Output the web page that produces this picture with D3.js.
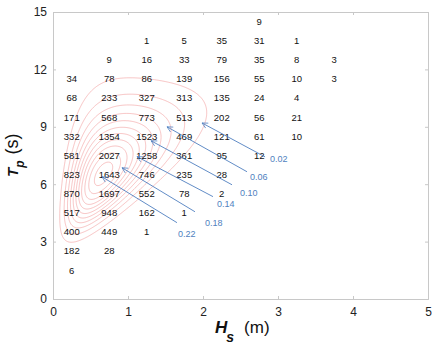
<!DOCTYPE html>
<html>
<head>
<meta charset="utf-8">
<script src="https://cdn.jsdelivr.net/npm/d3@7"></script>
<style>
  body { margin: 0; background: #fff; }
  text { font-family: "Liberation Sans", Arial, sans-serif; }
</style>
</head>
<body>
<div id="chart"></div>
<script>
// size of svg
const width = 446; const height = 352;

// scatter table: Hs bin centres, Tp bin centres (top row first), counts
const hsBins = [0.25, 0.75, 1.25, 1.75, 2.25, 2.75, 3.25, 3.75];
const tpBins = [14.5, 13.5, 12.5, 11.5, 10.5, 9.5, 8.5, 7.5, 6.5, 5.5, 4.5, 3.5, 2.5, 1.5];
const counts = [
  [null, null, null, null, null, 9, null, null],
  [null, null, 1, 5, 35, 31, 1, null],
  [null, 9, 16, 33, 79, 35, 8, 3],
  [34, 78, 86, 139, 156, 55, 10, 3],
  [68, 233, 327, 313, 135, 24, 4, null],
  [171, 568, 773, 513, 202, 56, 21, null],
  [332, 1354, 1523, 469, 121, 61, 10, null],
  [581, 2027, 1258, 361, 95, 12, null, null],
  [823, 1643, 746, 235, 28, null, null, null],
  [870, 1697, 552, 78, 2, null, null, null],
  [517, 948, 162, 1, null, null, null, null],
  [400, 449, 1, null, null, null, null, null],
  [182, 28, null, null, null, null, null, null],
  [6, null, null, null, null, null, null, null]
];

// ticks
const xTicks = [0, 1, 2, 3, 4, 5];
const yTicks = [0, 3, 6, 9, 12, 15];

// fitted joint pdf parameters (shifted lognormal Hs, conditional lognormal Tp)
const hsShift = 0.3, hsMu = 0.11, hsSigma = 0.40;
const tpMu = [1.3, 0.75, 0.4];       // mu(h) = a + b*h^c
const tpSigma = [0.12, 0.25, -1.0];  // s(h) = a + b*exp(c*h)
const levels = [0.02, 0.04, 0.06, 0.08, 0.10, 0.12, 0.14, 0.16, 0.18, 0.20, 0.22];

// contour labels with arrows (Hs, Tp of tip / tail / text)
const arrowLabels = ['0.02', '0.06', '0.10', '0.14', '0.18', '0.22'];
const arrowTip = [[1.987, 9.20], [1.52, 9.0], [1.307, 8.27], [1.12, 7.44], [0.92, 6.86], [0.653, 6.39]];
const arrowTail = [[2.827, 7.43], [2.587, 6.65], [2.387, 5.97], [2.133, 5.35], [1.893, 4.56], [1.653, 3.99]];
const labelPos = [[2.893, 7.17], [2.627, 6.24], [2.493, 5.40], [2.187, 4.82], [2.027, 3.83], [1.667, 3.26]];

let svg = d3.select('#chart')
  .append('svg')
    .attr('width', width)
    .attr('height', height);

const x = d3.scaleLinear().domain([0, 5]).range([53, 428]);
const y = d3.scaleLinear().domain([0, 15]).range([299, 12]);

// density grid for contours
function lnpdf(v, mu, s) {
  if (v <= 0) return 0;
  const z = (Math.log(v) - mu) / s;
  return Math.exp(-0.5 * z * z) / (v * s * Math.sqrt(2 * Math.PI));
}
function density(h, t) {
  if (h <= 0) return 0;
  const mu = tpMu[0] + tpMu[1] * Math.pow(h, tpMu[2]);
  const s = tpSigma[0] + tpSigma[1] * Math.exp(tpSigma[2] * h);
  return lnpdf(h + hsShift, hsMu, hsSigma) * lnpdf(t, mu, s);
}
const dh = 0.01, dt = 0.03;
const nx = Math.round(5 / dh) + 1, ny = Math.round(15 / dt) + 1;
const grid = new Array(nx * ny);
for (let j = 0; j < ny; j++) {
  for (let i = 0; i < nx; i++) {
    grid[j * nx + i] = density(i * dh, j * dt);
  }
}
const contours = d3.contours().size([nx, ny]).thresholds(levels)(grid);
const proj = d3.geoTransform({
  point: function(px, py) { this.stream.point(x((px - 0.5) * dh), y((py - 0.5) * dt)); }
});
const path = d3.geoPath(proj);

const plotG = svg.append('g');
plotG.append('defs').append('clipPath').attr('id', 'clip')
  .append('rect')
    .attr('x', x(0)).attr('y', y(15))
    .attr('width', x(5) - x(0)).attr('height', y(0) - y(15));

plotG.append('g')
    .attr('clip-path', 'url(#clip)')
  .selectAll('path')
  .data(contours)
  .enter()
  .append('path')
    .attr('d', path)
    .style('fill', 'none')
    .style('stroke', '#f09494')
    .style('stroke-width', 0.7)
    .style('opacity', 0.8);

// frame and axes
const axisColor = '#c8c8c8';
const fmt = d3.format('d');
const xAxis = plotG.append('g')
  .attr('transform', `translate(0, ${y(0)})`)
  .call(d3.axisBottom(x).tickValues(xTicks).tickFormat(fmt).tickSize(-3).tickPadding(8));
const yAxis = plotG.append('g')
  .attr('transform', `translate(${x(0)}, 0)`)
  .call(d3.axisLeft(y).tickValues(yTicks).tickFormat(fmt).tickSize(-3).tickPadding(6));
const xTop = plotG.append('g')
  .attr('transform', `translate(0, ${y(15)})`)
  .call(d3.axisTop(x).tickValues(xTicks).tickSize(-3).tickFormat(''));
const yRight = plotG.append('g')
  .attr('transform', `translate(${x(5)}, 0)`)
  .call(d3.axisRight(y).tickValues(yTicks).tickSize(-3).tickFormat(''));
[xAxis, yAxis, xTop, yRight].forEach(a => {
  a.selectAll('path, line').attr('stroke', axisColor);
  a.selectAll('text').attr('fill', '#222').style('font-size', '12px');
});

// table numbers
const cells = [];
counts.forEach((row, r) => {
  row.forEach((v, c) => {
    if (v !== null) cells.push({h: hsBins[c], t: tpBins[r], v: v});
  });
});
plotG.selectAll('.cell')
  .data(cells)
  .enter()
  .append('text')
    .attr('class', 'cell')
    .attr('x', d => x(d.h))
    .attr('y', d => y(d.t))
    .attr('dy', '0.35em')
    .attr('text-anchor', 'middle')
    .style('font-size', '9.5px')
    .attr('fill', '#111')
    .text(d => d.v);

// arrows with level labels
const blue = '#4f7fc0';
svg.append('defs').append('marker')
    .attr('id', 'head')
    .attr('viewBox', '-8 -5 10 10')
    .attr('refX', 0).attr('refY', 0)
    .attr('markerWidth', 8).attr('markerHeight', 8)
    .attr('markerUnits', 'userSpaceOnUse')
    .attr('orient', 'auto')
  .append('path')
    .attr('d', 'M-7,-3.5L0,0L-7,3.5')
    .style('fill', 'none')
    .style('stroke', blue)
    .style('stroke-width', 0.9);

const arrowData = arrowLabels.map((lab, i) => ({lab: lab, tip: arrowTip[i], tail: arrowTail[i], pos: labelPos[i]}));
plotG.selectAll('.arrow')
  .data(arrowData)
  .enter()
  .append('line')
    .attr('class', 'arrow')
    .attr('x1', d => x(d.tail[0])).attr('y1', d => y(d.tail[1]))
    .attr('x2', d => x(d.tip[0])).attr('y2', d => y(d.tip[1]))
    .style('stroke', blue)
    .style('stroke-width', 0.9)
    .attr('marker-end', 'url(#head)');
plotG.selectAll('.alabel')
  .data(arrowData)
  .enter()
  .append('text')
    .attr('class', 'alabel')
    .attr('x', d => x(d.pos[0]))
    .attr('y', d => y(d.pos[1]))
    .style('font-size', '9px')
    .attr('fill', blue)
    .text(d => d.lab);

// axis titles
const xLab = svg.append('text')
  .attr('x', 215).attr('y', 333)
  .attr('fill', '#111');
xLab.append('tspan').text('H').style('font-size', '17px').style('font-weight', 'bold').style('font-style', 'italic');
xLab.append('tspan').text('s').attr('dy', 9).attr('dx', -1).style('font-size', '14px').style('font-weight', 'bold').style('font-style', 'italic');
xLab.append('tspan').text('(m)').attr('dy', -9).attr('dx', 10).style('font-size', '17px');

const yLab = svg.append('text')
  .attr('transform', 'translate(18, 177) rotate(-90)')
  .attr('fill', '#111');
yLab.append('tspan').text('T').style('font-size', '15px').style('font-weight', 'bold').style('font-style', 'italic');
yLab.append('tspan').text('p').attr('dy', 6).style('font-size', '12px').style('font-weight', 'bold').style('font-style', 'italic');
yLab.append('tspan').text('(s)').attr('dy', -6).attr('dx', 6).style('font-size', '18px');
</script>
</body>
</html>
